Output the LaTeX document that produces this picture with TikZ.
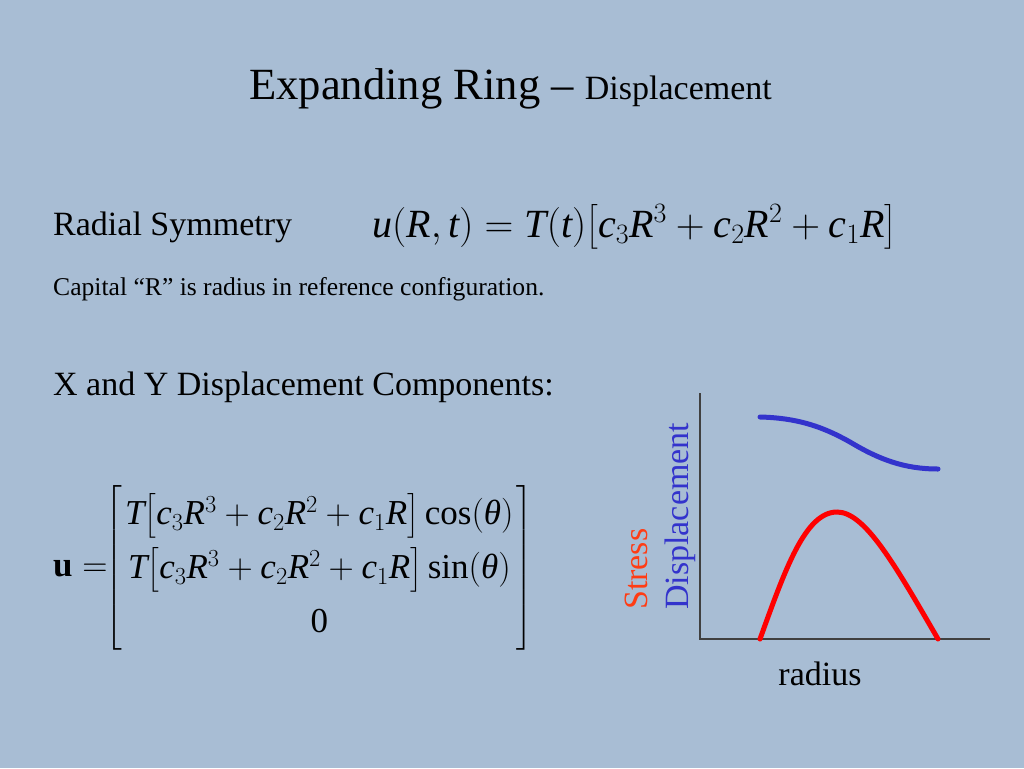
\documentclass[tikz,border=0pt]{standalone}
\usepackage{fix-cm}
\usepackage{amsmath}
\usepackage{fontspec}
\setmainfont{Liberation Serif}
\definecolor{slidebg}{RGB}{168,189,212}
\definecolor{dispblue}{RGB}{51,51,204}
\definecolor{stressred}{RGB}{255,60,20}
\newcommand{\vi}[1]{\mathit{#1}}
\newcommand{\ringsum}{\vi{c}_3\vi{R}^3+\vi{c}_2\vi{R}^2+\vi{c}_1\vi{R}}

\begin{document}
\begin{tikzpicture}[x=1pt,y=-1pt,
  txt/.style={anchor=base west,inner sep=0pt,font=\fontsize{34}{40}\selectfont},
  curve/.style={line width=5pt,line cap=round}]

  \fill[slidebg] (0,0) rectangle (1024,768);

  \node[txt] (title) at (249,99) {\fontsize{44.6}{50}\selectfont Expanding Ring – {\fontsize{34}{40}\selectfont Displacement}};

  \node[txt] (radial) at (53,235) {Radial Symmetry};
  \node[txt,font=\fontsize{40}{46}\selectfont] (ueq) at (372,237)
    {$\vi{u}(\vi{R},\vi{t})=\vi{T}(\vi{t})\bigl[\ringsum\bigr]$};
  \node[txt,font=\fontsize{25.6}{30}\selectfont] (capital) at (53,295) {Capital “R” is radius in reference configuration.};

  \node[txt] (xycomp) at (53,395) {X and Y Displacement Components:};
  \node[anchor=west,inner sep=0pt,font=\fontsize{35}{38}\selectfont] (uvec) at (53,568)
    {\renewcommand{\arraystretch}{1.42}\setlength{\arraycolsep}{3pt}%
    $\mathbf{u}=\!\!\left[\begin{array}{c}
      \vi{T}\bigl[\ringsum\bigr]\cos(\textit{θ})\\
      \vi{T}\bigl[\ringsum\bigr]\sin(\textit{θ})\\
      \text{0}
    \end{array}\right]$};

  \coordinate (ytop) at (700,393);
  \coordinate (origin) at (700,639);
  \coordinate (xend) at (990,639);
  \draw[line width=1.5pt,black!75] (ytop) -- (origin) -- (xend);

  \draw[curve,dispblue] (760,417) .. controls (800,418) and (825,428) .. (850,442)
    .. controls (880,460) and (905,469) .. (938,469);
  \draw[curve,red] (760,639) .. controls (785,570) and (805,512) .. (837,512)
    .. controls (865,512) and (895,565) .. (938,639);

  \node[txt,rotate=90,text=stressred] (stress) at (647,610) {Stress};
  \node[txt,rotate=90,text=dispblue] (disp) at (688,610) {Displacement};
  \node[txt,anchor=base] (radius) at (820,685) {radius};
\end{tikzpicture}
\end{document}
